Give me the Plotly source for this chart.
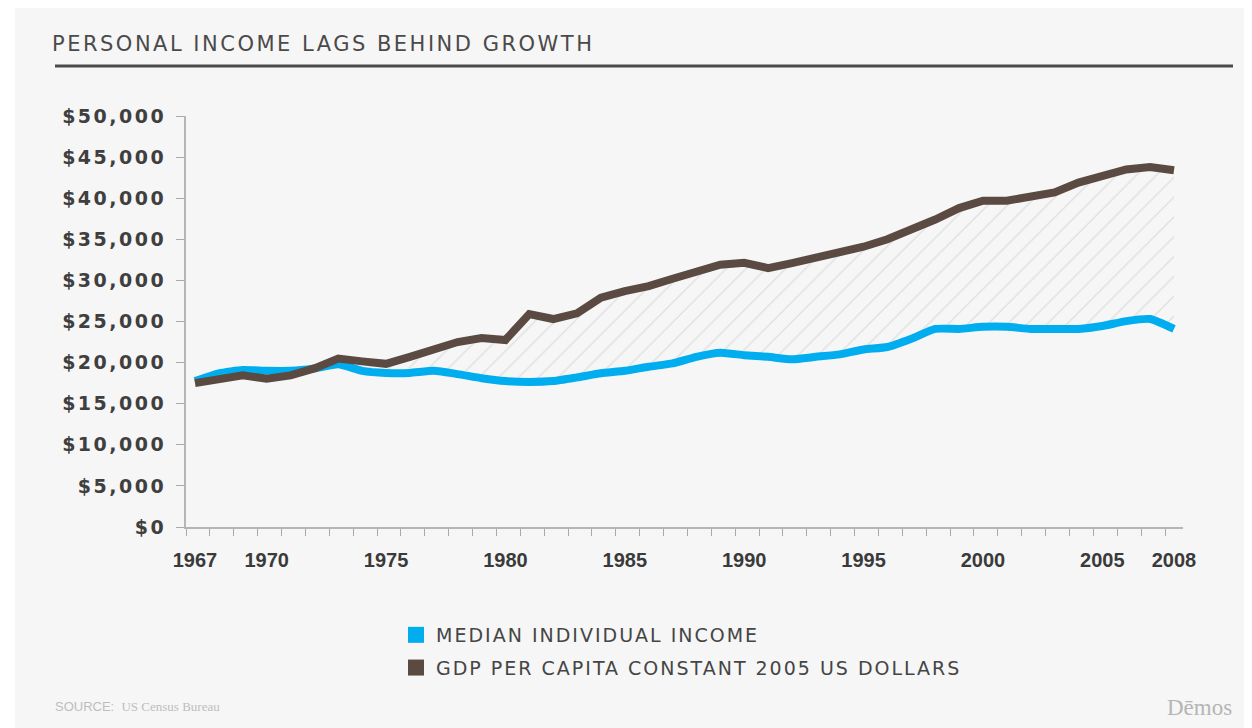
import plotly.graph_objects as go

# ---------------- data ----------------
years = list(range(1967, 2009))
median_income = [17750, 18700, 19100, 19000, 19000, 19300, 19800, 19000, 18750, 18750,
                 19000, 18600, 18100, 17750, 17650, 17750, 18200, 18700, 19000, 19500,
                 19900, 20700, 21200, 20900, 20700, 20400, 20700, 21000, 21600, 21900,
                 22900, 24100, 24100, 24350, 24350, 24100, 24100, 24100, 24450, 25050,
                 25300, 24100]
gdp_per_capita = [17500, 17950, 18450, 18050, 18450, 19300, 20500, 20150, 19850, 20700,
                  21600, 22500, 23000, 22750, 25900, 25300, 26000, 27900, 28700, 29300,
                  30200, 31100, 31900, 32150, 31500, 32100, 32700, 33500, 34100, 35000,
                  36100, 37400, 38800, 39700, 39700, 40100, 40700, 41900, 42700, 43500,
                  43800, 43400]
x_tick_years = [1967, 1970, 1975, 1980, 1985, 1990, 1995, 2000, 2005, 2008]
x_tick_labels = [str(y) for y in x_tick_years]
y_tick_values = list(range(0, 50001, 5000))
y_tick_labels = ["$" + f"{v:,}" for v in y_tick_values]

series_names = ["MEDIAN INDIVIDUAL INCOME", "GDP PER CAPITA CONSTANT 2005 US DOLLARS"]
title_text = "PERSONAL INCOME LAGS BEHIND GROWTH"
source_label = "SOURCE:"
source_name = "US Census Bureau"
brand_text = "Dēmos"

# ---------------- layout geometry (screen pixels) ----------------
SCREEN_W, SCREEN_H = 1252, 728
OFF = 8                       # default body margin of the html page
W, H = SCREEN_W - OFF, SCREEN_H - OFF
PLOT_L, PLOT_R, PLOT_T, PLOT_B = 186, 1183, 116, 527   # screen coords
ML = PLOT_L - OFF
MT = PLOT_T - OFF
MR = W - (PLOT_R - OFF)
MB = H - (PLOT_B - OFF)
PW, PH = PLOT_R - PLOT_L, PLOT_B - PLOT_T


def px(x):
    return (x - PLOT_L) / PW


def py(y):
    return (PLOT_B - y) / PH


def spaced(text, ls):
    return f"<span style='letter-spacing:{ls}px'>{text}</span>"


BLUE = "#00AEEF"
BROWN = "#5A4A42"
BG = "#F6F6F6"

fig = go.Figure()

fig.add_trace(go.Scatter(
    x=years, y=median_income, mode="lines", showlegend=False,
    line=dict(color=BLUE, width=8, shape="spline", smoothing=0.5),
    hoverinfo="skip",
))
fig.add_trace(go.Scatter(
    x=years, y=gdp_per_capita, mode="lines", showlegend=False,
    line=dict(color=BROWN, width=8),
    fill="tonexty", fillcolor="rgba(0,0,0,0)",
    fillpattern=dict(shape="/", fgcolor="#C9C9C9", bgcolor="rgba(0,0,0,0)",
                     size=14, solidity=0.1),
    hoverinfo="skip",
))
# legend entries (square swatches)
for name, col, grp in [(series_names[0], BLUE, "a"), (series_names[1], BROWN, "b")]:
    fig.add_trace(go.Scatter(
        x=[None], y=[None], mode="markers", name=spaced(name, 2), legendgroup=grp,
        marker=dict(symbol="square", size=16, color=col, line=dict(width=0)),
    ))

fig.update_layout(
    width=W, height=H,
    margin=dict(l=ML, r=MR, t=MT, b=MB, pad=0),
    paper_bgcolor="white",
    plot_bgcolor="rgba(0,0,0,0)",
    showlegend=True,
    legend=dict(
        x=px(396), y=py(616), xanchor="left", yanchor="top",
        bgcolor="rgba(0,0,0,0)", traceorder="grouped", tracegroupgap=5,
        itemsizing="trace", itemwidth=30,
        font=dict(family="DejaVu Sans", size=19, color="#454545"),
    ),
    xaxis=dict(
        range=[1966.623, 2008.377],
        tickmode="array", tickvals=x_tick_years, ticktext=x_tick_labels,
        ticks="", showgrid=False, zeroline=False,
        showline=True, linecolor="#B5B5B5", linewidth=2,
        tickfont=dict(family="Liberation Sans", size=20, color="#3A3A3A", weight="bold"),
        ticklabelstandoff=14,
        minor=dict(ticks="outside", tick0=1966.623, dtick=1, ticklen=7,
                   tickcolor="#AAAAAA", tickwidth=1, showgrid=False),
        fixedrange=True,
    ),
    yaxis=dict(
        range=[0, 50000],
        tickmode="array", tickvals=y_tick_values,
        ticktext=[spaced(t, 2.5) for t in y_tick_labels],
        ticks="outside", ticklen=8, tickcolor="#AAAAAA", tickwidth=1,
        showgrid=False, zeroline=False,
        showline=True, linecolor="#B5B5B5", linewidth=2,
        tickfont=dict(family="DejaVu Sans", size=19, color="#3F3F3F", weight="bold"),
        ticklabelstandoff=6,
        fixedrange=True,
    ),
    shapes=[
        # grey card background
        dict(type="rect", xref="paper", yref="paper", layer="below",
             x0=px(15), x1=px(SCREEN_W + 5), y0=py(6), y1=py(SCREEN_H + 5),
             fillcolor=BG, line=dict(width=0)),
        # title rule
        dict(type="line", xref="paper", yref="paper",
             x0=px(55), x1=px(1233), y0=py(66), y1=py(66),
             line=dict(color="#4A4A4A", width=3)),
    ],
    annotations=[
        dict(text=spaced(title_text, 2.5), xref="paper", yref="paper", x=px(50), y=py(44),
             xanchor="left", yanchor="middle", showarrow=False,
             font=dict(family="DejaVu Sans", size=21, color="#4A4A4A")),
        dict(text=source_label + "  <span style='font-family:Liberation Serif'>"
             + source_name + "</span>",
             xref="paper", yref="paper", x=px(53), y=py(706),
             xanchor="left", yanchor="middle", showarrow=False,
             font=dict(family="Liberation Sans", size=13, color="#BDBDBD")),
        dict(text=brand_text, xref="paper", yref="paper", x=px(1234), y=py(707),
             xanchor="right", yanchor="middle", showarrow=False,
             font=dict(family="Liberation Serif", size=23, color="#B5B5B5")),
    ],
)

fig.write_html("out.html")
